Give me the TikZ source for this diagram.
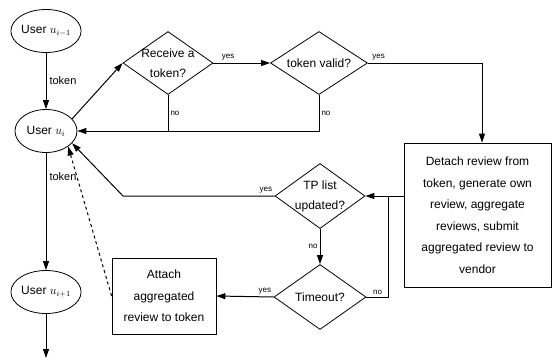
\documentclass[tikz,border=0pt]{standalone}
\usepackage{fontspec}
\setmainfont{Liberation Sans}
\usetikzlibrary{shapes.geometric,arrows.meta}
\begin{document}
\begin{tikzpicture}[x=1pt,y=-1pt,
  user/.style={draw,ellipse,minimum width=62pt,minimum height=43pt,inner sep=0pt,line width=0.8pt,font=\fontsize{12}{14}\selectfont},
  dec/.style={draw,diamond,inner sep=0pt,line width=0.8pt},
  dlabel/.style={font=\fontsize{12}{20}\selectfont,align=center,inner sep=0pt},
  procbox/.style={draw,rectangle,line width=0.8pt,align=center,font=\fontsize{12}{21.5}\selectfont,inner sep=0pt},
  arr/.style={line width=1pt,-{Triangle[length=9pt,width=6pt]}},
  ln/.style={line width=1pt},
  yn/.style={font=\fontsize{8}{9}\selectfont,inner sep=2pt},
  tok/.style={font=\fontsize{11}{12}\selectfont,inner sep=3pt},
]
\useasboundingbox (0,0) rectangle (553,362);

% users
\node[user] (ua) at (46,31) {User $u_{i-1}$};
\node[user] (ub) at (46,131) {User $u_{i}$};
\node[user] (uc) at (46,292) {User $u_{i+1}$};
\coordinate (uend) at (46,358);

% decisions
\node[dec,minimum width=90pt,minimum height=63pt] (recv) at (168,63) {};
\node[dlabel] (recvt) at (recv) {Receive a\\token?};
\node[dec,minimum width=97pt,minimum height=63pt] (valid) at (319,63) {};
\node[dlabel] (validt) at (valid) {token valid?};
\node[dec,minimum width=90pt,minimum height=65pt] (tp) at (320,196) {};
\node[dlabel] (tpt) at (tp) {TP list\\updated?};
\node[dec,minimum width=92pt,minimum height=65pt] (timeout) at (320,297) {};
\node[dlabel] (timeoutt) at (timeout) {Timeout?};

% boxes
\node[procbox,minimum width=147pt,minimum height=144pt] (detach) at (477.5,215)
  {Detach review from\\token, generate own\\review, aggregate\\reviews, submit\\aggregated review to\\vendor};
\node[procbox,minimum width=104pt,minimum height=76pt] (attach) at (164,296)
  {Attach\\aggregated\\review to token};

% user chain
\draw[arr] (ua) -- node[right,tok]{token} (ub);
\draw[arr] (ub) -- node[right,tok,pos=0.2]{token} (uc);
\draw[arr] (uc) -- (uend);

% main flow
\draw[arr] (ub.25) -- (recv.west);
\draw[arr] (recv.east) -- node[pos=0,above right,yn,xshift=6pt]{yes} (valid.west);
\draw[ln] (recv.south) -- node[right,yn]{no} (recv.south |- ub.east);
\draw[arr] (valid.south) |- node[pos=0.25,right,yn]{no} (ub.east);
\draw[arr] (valid.east) -| node[pos=0,above right,yn,xshift=2pt]{yes} ([xshift=4.5pt]detach.north);
\draw[arr] (detach.west |- tp) -- (tp.east);
\draw[arr] (tp.south) -- node[left,yn]{no} (timeout.north);
\coordinate (tpbend) at (123,196);
\draw[arr] (tp.west) -- node[pos=0,above left,yn]{yes} (tpbend) -- (ub.-25);
\coordinate (nobend) at (388,297);
\coordinate (nojoin) at (388,196);
\draw[ln] (timeout.east) -- node[pos=0.2,above right,yn]{no} (nobend) -- (nojoin);
\draw[arr] (timeout.west) -- node[pos=0,above left,yn]{yes} (attach.east);
\draw[arr,dashed] (attach.west) -- (ub.-35);
\end{tikzpicture}
\end{document}
